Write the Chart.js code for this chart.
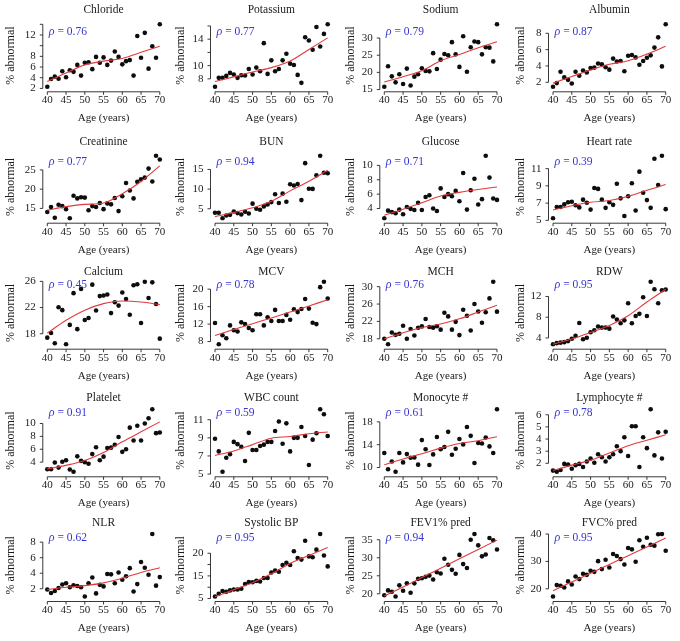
<!DOCTYPE html>
<html>
<head>
<meta charset="utf-8">
<script src="https://cdn.jsdelivr.net/npm/chart.js@4.4.0/dist/chart.umd.min.js"></script>
<style>
  html, body { margin: 0; padding: 0; background: #fff; }
  #grid { position: relative; width: 680px; height: 641px; overflow: hidden; }
  #grid canvas { position: absolute; }
</style>
</head>
<body>
<div id="grid"></div>
<script>
/* ---------- data ---------- */

const ages = [40, 41, 42, 43, 44, 45, 46, 47, 48, 49, 50, 51, 52, 53, 54, 55,
              56, 57, 58, 59, 60, 61, 62, 63, 64, 65, 66, 67, 68, 69, 70];
const xTicks = [40, 45, 50, 55, 60, 65, 70];
const fitAges = [40, 45, 50, 55, 60, 65, 70];

const chloride = [2.3, 3.75, 4.2, 3.8, 5.2, 4.1, 5.4, 5.1, 6.4, 4.4, 6.8, 6.9, 5.6, 7.9, 6.8, 7.8,
                  6.4, 7.2, 8.9, 7.9, 6.5, 7.1, 7.3, 4.4, 11.8, 7.75, 12.4, 5.7, 9.9, 7.75, 14.0];
const chlorideFit = [3.3, 4.9, 6.4, 7.1, 7.6, 8.75, 9.9];

const potassium = [6.8, 8.15, 8.15, 8.45, 8.9, 8.65, 8.15, 8.55, 8.5, 9.5, 8.65, 9.7, 9.15, 13.4, 8.75, 10.8,
                   9.15, 9.5, 10.8, 11.8, 10.3, 10.1, 8.6, 7.4, 14.3, 13.8, 12.4, 15.85, 12.9, 14.8, 16.25];
const potassiumFit = [7.6, 8.3, 9.05, 9.7, 10.7, 12.45, 14.2];

const sodium = [15.8, 21.8, 18.85, 17.1, 19.45, 16.6, 21.1, 16.2, 18.75, 19.45, 21.2, 20.4, 20.3, 25.6, 21.0, 23.7,
                25.35, 25.0, 28.8, 25.25, 21.6, 30.5, 20.2, 27.3, 29.0, 28.8, 25.25, 27.3, 27.2, 23.2, 34.0];
const sodiumFit = [17.2, 18.75, 20.5, 23.4, 25.2, 27.2, 28.9];

const albumin = [1.45, 1.9, 3.3, 2.6, 2.3, 1.85, 3.3, 2.8, 3.45, 3.2, 3.75, 3.8, 4.3, 4.2, 3.85, 3.55,
                 4.9, 4.55, 4.6, 3.35, 5.25, 5.35, 5.05, 4.15, 4.6, 5.0, 5.3, 6.25, 7.5, 3.95, 9.1];
const albuminFit = [1.9, 2.7, 3.5, 4.2, 4.65, 5.45, 6.4];

const creatinine = [14.05, 15.35, 12.55, 15.95, 15.6, 14.8, 12.45, 18.3, 17.6, 17.9, 17.8, 14.5, 15.6, 15.35, 16.4, 14.8,
                    16.3, 16.05, 17.7, 14.3, 18.15, 21.6, 19.65, 17.6, 21.9, 22.55, 23.0, 25.35, 22.0, 28.7, 27.7];
const creatinineFit = [14.55, 15.45, 16.05, 16.4, 18.8, 22.0, 26.05];

const bun = [3.97, 3.97, 2.6, 3.3, 3.45, 4.3, 3.9, 3.55, 4.25, 3.8, 6.3, 5.0, 4.75, 5.6, 6.1, 6.7,
             8.7, 6.45, 8.85, 6.8, 11.25, 10.9, 11.3, 7.2, 16.6, 10.1, 10.05, 13.5, 18.5, 14.15, 14.05];
const bunFit = [3.0, 4.05, 5.25, 6.9, 9.55, 12.0, 14.8];

const glucose = [2.65, 3.7, 3.5, 3.35, 3.85, 3.2, 4.2, 3.95, 3.8, 4.8, 3.8, 5.6, 5.85, 4.0, 3.65, 6.8,
                 5.6, 6.0, 5.7, 6.45, 5.0, 8.95, 3.85, 6.55, 8.15, 4.55, 5.3, 11.35, 8.3, 5.4, 5.2];
const glucoseFit = [3.05, 3.9, 4.8, 5.75, 6.25, 6.65, 7.0];

const heartRate = [5.25, 6.55, 6.55, 6.85, 7.1, 7.15, 6.75, 6.5, 7.4, 7.05, 6.25, 8.75, 8.65, 7.4, 6.45, 7.1,
                   6.8, 9.25, 7.55, 5.5, 7.8, 9.3, 6.15, 10.65, 8.2, 7.35, 6.45, 12.15, 9.1, 12.5, 6.3];
const heartRateFit = [6.2, 6.7, 7.1, 7.3, 7.8, 8.5, 9.15];

const calcium = [17.4, 18.1, 16.55, 22.05, 21.6, 16.4, 19.35, 24.2, 18.7, 24.85, 20.1, 20.4, 25.5, 21.55, 23.75, 23.85,
                 24.0, 21.15, 22.8, 22.3, 24.3, 23.3, 20.9, 25.4, 25.55, 19.65, 25.95, 23.45, 25.85, 22.55, 17.25];
const calciumFit = [18.1, 20.05, 21.6, 22.6, 23.0, 22.85, 22.45];

const mcv = [12.25, 7.4, 9.45, 8.75, 11.7, 10.6, 10.3, 12.4, 12.0, 11.1, 10.6, 14.25, 14.25, 11.7, 13.55, 12.7,
             15.25, 12.7, 12.7, 14.1, 13.0, 15.4, 14.75, 15.45, 17.75, 15.55, 12.3, 12.0, 20.45, 21.7, 17.85];
const mcvFit = [9.4, 10.75, 12.1, 13.4, 14.75, 16.15, 17.55];

const mch = [18.0, 16.75, 19.45, 18.9, 19.15, 21.0, 18.0, 20.25, 18.75, 20.55, 20.85, 22.55, 20.7, 20.55, 20.9, 20.1,
             24.0, 23.15, 20.1, 21.9, 18.85, 24.7, 23.3, 19.9, 26.0, 24.3, 21.7, 24.1, 27.3, 31.15, 24.25];
const mchFit = [18.0, 19.4, 20.6, 21.4, 22.6, 24.15, 25.7];

const rdw = [2.8, 3.0, 3.1, 3.2, 3.4, 3.85, 4.4, 6.9, 3.75, 4.05, 5.1, 5.5, 6.2, 6.0, 6.0, 5.8,
             8.15, 7.55, 6.85, 7.4, 10.7, 6.85, 8.25, 8.65, 11.85, 8.25, 14.85, 13.4, 10.7, 13.2, 13.35];
const rdwFit = [2.8, 3.8, 5.05, 6.4, 8.3, 10.95, 13.4];

const platelet = [2.9, 2.9, 3.95, 3.15, 4.05, 4.3, 2.85, 2.5, 4.9, 4.2, 4.0, 3.75, 5.25, 6.3, 4.3, 4.85,
                  6.2, 6.25, 6.7, 7.9, 5.6, 6.0, 9.35, 7.35, 9.65, 7.35, 10.0, 10.8, 12.2, 8.5, 8.6];
const plateletFit = [2.95, 3.5, 4.25, 5.5, 7.15, 8.7, 10.25];

const wbc = [8.9, 7.5, 5.25, 6.8, 7.2, 8.55, 8.3, 8.0, 6.45, 9.55, 7.65, 7.65, 8.1, 8.25, 8.55, 8.55,
             9.75, 10.8, 8.35, 10.6, 7.5, 9.0, 9.0, 10.2, 9.2, 6.0, 8.8, 9.5, 12.15, 11.6, 9.2];
const wbcFit = [7.05, 7.55, 8.25, 8.95, 9.15, 9.45, 9.65];

const monocyte = [12.55, 9.7, 11.05, 9.25, 12.55, 10.9, 12.35, 11.7, 11.75, 10.5, 14.8, 13.2, 10.45, 12.3, 15.35, 13.2,
                  13.6, 16.25, 12.25, 13.3, 15.0, 14.05, 17.1, 15.55, 10.8, 14.3, 14.2, 15.25, 13.7, 12.55, 20.2];
const monocyteFit = [10.5, 11.5, 12.4, 13.4, 14.2, 14.7, 15.4];

const lymphocyte = [1.4, 1.3, 1.45, 1.95, 1.9, 1.55, 1.85, 1.95, 1.7, 2.15, 2.4, 2.05, 2.75, 2.5, 2.15, 2.5,
                    2.75, 3.4, 3.0, 4.15, 2.6, 5.05, 5.05, 1.7, 4.15, 3.25, 6.45, 2.65, 4.55, 2.4, 4.6];
const lymphocyteFit = [1.4, 1.85, 2.25, 2.85, 3.45, 3.9, 4.35];

const nlr = [1.9, 1.45, 1.7, 2.1, 2.55, 2.7, 2.2, 2.45, 2.35, 2.2, 1.0, 2.7, 3.45, 1.4, 2.5, 2.3,
             3.9, 3.85, 2.7, 4.1, 3.15, 3.6, 4.65, 1.65, 2.6, 5.45, 4.7, 3.8, 9.05, 2.4, 3.5];
const nlrFit = [1.9, 2.2, 2.4, 2.75, 3.35, 4.1, 4.7];

const systolic = [10.45, 11.05, 11.65, 11.5, 11.8, 12.0, 12.0, 12.15, 13.2, 13.65, 13.6, 13.9, 13.75, 14.55, 14.55, 15.75,
                  16.2, 15.9, 17.4, 17.9, 17.4, 20.45, 18.95, 18.6, 22.75, 19.3, 19.1, 20.8, 24.25, 19.5, 17.1];
const systolicFit = [10.4, 11.95, 13.5, 15.45, 17.75, 19.5, 21.25];

const fev1 = [19.6, 20.95, 20.55, 19.25, 22.35, 20.85, 22.9, 20.3, 22.9, 24.15, 24.3, 24.7, 25.05, 23.95, 26.0, 25.65,
              29.75, 28.05, 26.65, 25.55, 30.8, 28.25, 27.15, 35.0, 36.6, 33.45, 30.4, 30.9, 35.5, 34.85, 32.3];
const fev1Fit = [19.4, 21.9, 24.5, 27.1, 29.7, 32.3, 34.9];

const fvc = [17.2, 21.35, 21.1, 20.5, 22.7, 21.6, 24.5, 23.55, 25.5, 25.1, 26.6, 26.2, 30.1, 27.2, 30.6, 27.8,
             32.7, 31.95, 30.85, 28.9, 34.9, 34.4, 29.9, 37.7, 35.35, 38.65, 36.1, 35.75, 39.9, 40.0, 33.9];
const fvcFit = [19.3, 22.5, 25.7, 28.9, 32.1, 35.3, 38.5];

// y tick positions and the labels printed at them ('' = bare tick)
const chlorideTicks = [2, 4, 6, 8, 10, 12, 14];
const chlorideLabels = ['2', '4', '6', '8', '', '12', ''];
const potassiumTicks = [8, 10, 12, 14, 16];
const potassiumLabels = ['8', '10', '', '14', ''];
const systolicTicks = [10, 12.5, 15, 17.5, 20];
const systolicLabels = ['5', '', '15', '', '20'];

const panels = [
    { title: 'Chloride', rho: '0.76', values: chloride, fit: chlorideFit, ticks: chlorideTicks, labels: chlorideLabels },
    { title: 'Potassium', rho: '0.77', values: potassium, fit: potassiumFit, ticks: potassiumTicks, labels: potassiumLabels },
    { title: 'Sodium', rho: '0.79', values: sodium, fit: sodiumFit, ticks: [15, 20, 25, 30] },
    { title: 'Albumin', rho: '0.87', values: albumin, fit: albuminFit, ticks: [2, 4, 6, 8] },
    { title: 'Creatinine', rho: '0.77', values: creatinine, fit: creatinineFit, ticks: [15, 20, 25] },
    { title: 'BUN', rho: '0.94', values: bun, fit: bunFit, ticks: [5, 10, 15] },
    { title: 'Glucose', rho: '0.71', values: glucose, fit: glucoseFit, ticks: [4, 6, 8, 10] },
    { title: 'Heart rate', rho: '0.39', values: heartRate, fit: heartRateFit, ticks: [5, 7, 9, 11] },
    { title: 'Calcium', rho: '0.45', values: calcium, fit: calciumFit, ticks: [18, 22, 26] },
    { title: 'MCV', rho: '0.78', values: mcv, fit: mcvFit, ticks: [8, 12, 16, 20] },
    { title: 'MCH', rho: '0.76', values: mch, fit: mchFit, ticks: [18, 22, 26, 30] },
    { title: 'RDW', rho: '0.95', values: rdw, fit: rdwFit, ticks: [4, 8, 12] },
    { title: 'Platelet', rho: '0.91', values: platelet, fit: plateletFit, ticks: [4, 6, 8, 10] },
    { title: 'WBC count', rho: '0.59', values: wbc, fit: wbcFit, ticks: [5, 7, 9, 11] },
    { title: 'Monocyte #', rho: '0.61', values: monocyte, fit: monocyteFit, ticks: [10, 14, 18] },
    { title: 'Lymphocyte #', rho: '0.78', values: lymphocyte, fit: lymphocyteFit, ticks: [2, 3, 4, 5, 6] },
    { title: 'NLR', rho: '0.62', values: nlr, fit: nlrFit, ticks: [2, 4, 6, 8] },
    { title: 'Systolic BP', rho: '0.95', values: systolic, fit: systolicFit, ticks: systolicTicks, labels: systolicLabels },
    { title: 'FEV1% pred', rho: '0.94', values: fev1, fit: fev1Fit, ticks: [20, 25, 30, 35] },
    { title: 'FVC% pred', rho: '0.95', values: fvc, fit: fvcFit, ticks: [20, 30, 40] }
];

/* ---------- layout of the 4 x 5 grid ---------- */

const ROW_TOP = [21.8, 153.2, 279.2, 406.8, 531.5];   // top of each row's plotting region
const COL_LEFT = [42.8, 210.5, 379.8, 548.5];         // left edge of each column's plotting region
const TITLE_OFF = [-12, -11.5, -7.5, -8.5, -8.2];
const RHO_OFF = [9.8, 8.5, 6, 6.5, 6.8];
const CELL_W = 170, CANVAS_H = 130;
const PLOT_W = 121.7, PLOT_H = 67.5;
const X_SCALE_H = 35.6;
const SERIF = '"Liberation Serif", "Times New Roman", serif';

Chart.defaults.font.family = SERIF;
Chart.defaults.color = '#1a1a1a';

// base-R look: detached axes from first to last tick, title and rho text
const rStyle = {
    id: 'rStyle',
    afterDraw(chart, args, o) {
        const { ctx, chartArea: a, scales: { x, y } } = chart;
        ctx.save();
        ctx.strokeStyle = '#222';
        ctx.lineWidth = 0.9;
        ctx.beginPath();
        const ya = a.bottom + 2.5;
        ctx.moveTo(x.getPixelForValue(xTicks[0]), ya);
        ctx.lineTo(x.getPixelForValue(xTicks[xTicks.length - 1]), ya);
        xTicks.forEach(t => {
            const px = x.getPixelForValue(t);
            ctx.moveTo(px, ya);
            ctx.lineTo(px, ya + 3);
        });
        const xa = a.left;
        ctx.moveTo(xa, y.getPixelForValue(o.ticks[0]));
        ctx.lineTo(xa, y.getPixelForValue(o.ticks[o.ticks.length - 1]));
        o.ticks.forEach(t => {
            const py = y.getPixelForValue(t);
            ctx.moveTo(xa, py);
            ctx.lineTo(xa - 3, py);
        });
        ctx.stroke();

        ctx.textBaseline = 'middle';
        ctx.textAlign = 'center';
        ctx.fillStyle = '#1a1a1a';
        ctx.font = '11.5px ' + SERIF;
        ctx.fillText(o.title, (a.left + a.right) / 2, a.top + o.titleOff);

        ctx.textAlign = 'left';
        ctx.fillStyle = '#3535d0';
        const rx = a.left + 6, ry = a.top + o.rhoOff;
        ctx.font = 'italic 12px ' + SERIF;
        ctx.fillText('ρ', rx, ry);
        const w = ctx.measureText('ρ').width;
        ctx.font = '11.5px ' + SERIF;
        ctx.fillText(' = ' + o.rho, rx + w, ry);
        ctx.restore();
    }
};

const grid = document.getElementById('grid');

panels.forEach((p, i) => {
    const row = Math.floor(i / 4), col = i % 4;
    const canvas = document.createElement('canvas');
    const top = Math.floor(ROW_TOP[row] - 22);
    canvas.width = CELL_W;
    canvas.height = CANVAS_H;
    canvas.style.left = (col * CELL_W) + 'px';
    canvas.style.top = top + 'px';
    grid.appendChild(canvas);

    const padTop = ROW_TOP[row] - top;
    const yW = COL_LEFT[col] - col * CELL_W;
    const padRight = CELL_W - yW - PLOT_W;
    const padBottom = CANVAS_H - padTop - PLOT_H - X_SCALE_H;

    const lo = Math.min(...p.values), hi = Math.max(...p.values);
    const span = hi - lo;
    const xSpan = ages[ages.length - 1] - ages[0];

    new Chart(canvas, {
        type: 'scatter',
        data: {
            datasets: [
                {
                    data: fitAges.map((a, k) => ({ x: a, y: p.fit[k] })),
                    showLine: true,
                    borderColor: '#e3393c',
                    borderWidth: 1.1,
                    pointRadius: 0,
                    cubicInterpolationMode: 'monotone'
                },
                {
                    data: ages.map((a, k) => ({ x: a, y: p.values[k] })),
                    backgroundColor: '#0d0d0d',
                    borderWidth: 0,
                    pointRadius: 2.3
                }
            ]
        },
        options: {
            responsive: false,
            animation: false,
            devicePixelRatio: 1,
            events: [],
            layout: { padding: { top: padTop, right: padRight, bottom: padBottom, left: 0 } },
            plugins: {
                legend: { display: false },
                tooltip: { enabled: false },
                rStyle: {
                    title: p.title,
                    rho: p.rho,
                    ticks: p.ticks,
                    titleOff: TITLE_OFF[row],
                    rhoOff: RHO_OFF[row]
                }
            },
            scales: {
                x: {
                    type: 'linear',
                    min: ages[0] - 0.04 * xSpan,
                    max: ages[ages.length - 1] + 0.04 * xSpan,
                    grid: { display: false, drawTicks: false },
                    border: { display: false },
                    afterBuildTicks: s => { s.ticks = xTicks.map(v => ({ value: v })); },
                    afterFit: s => { s.height = X_SCALE_H; },
                    ticks: { autoSkip: false, maxRotation: 0, padding: 4.5, font: { size: 11 } },
                    title: {
                        display: true,
                        text: 'Age (years)',
                        font: { size: 11 },
                        padding: { top: 0, bottom: 0 }
                    }
                },
                y: {
                    type: 'linear',
                    min: lo - 0.04 * span,
                    max: hi + 0.04 * span,
                    grid: { display: false, drawTicks: false },
                    border: { display: false },
                    afterBuildTicks: s => { s.ticks = p.ticks.map(v => ({ value: v })); },
                    afterFit: s => { s.width = yW; },
                    ticks: {
                        autoSkip: false,
                        padding: 7,
                        font: { size: 11 },
                        callback: (v, k) => p.labels ? p.labels[k] : String(v)
                    },
                    title: {
                        display: true,
                        text: '% abnormal',
                        font: { size: 12 },
                        padding: { top: 4, bottom: 0 }
                    }
                }
            }
        },
        plugins: [rStyle]
    });
});
</script>
</body>
</html>
